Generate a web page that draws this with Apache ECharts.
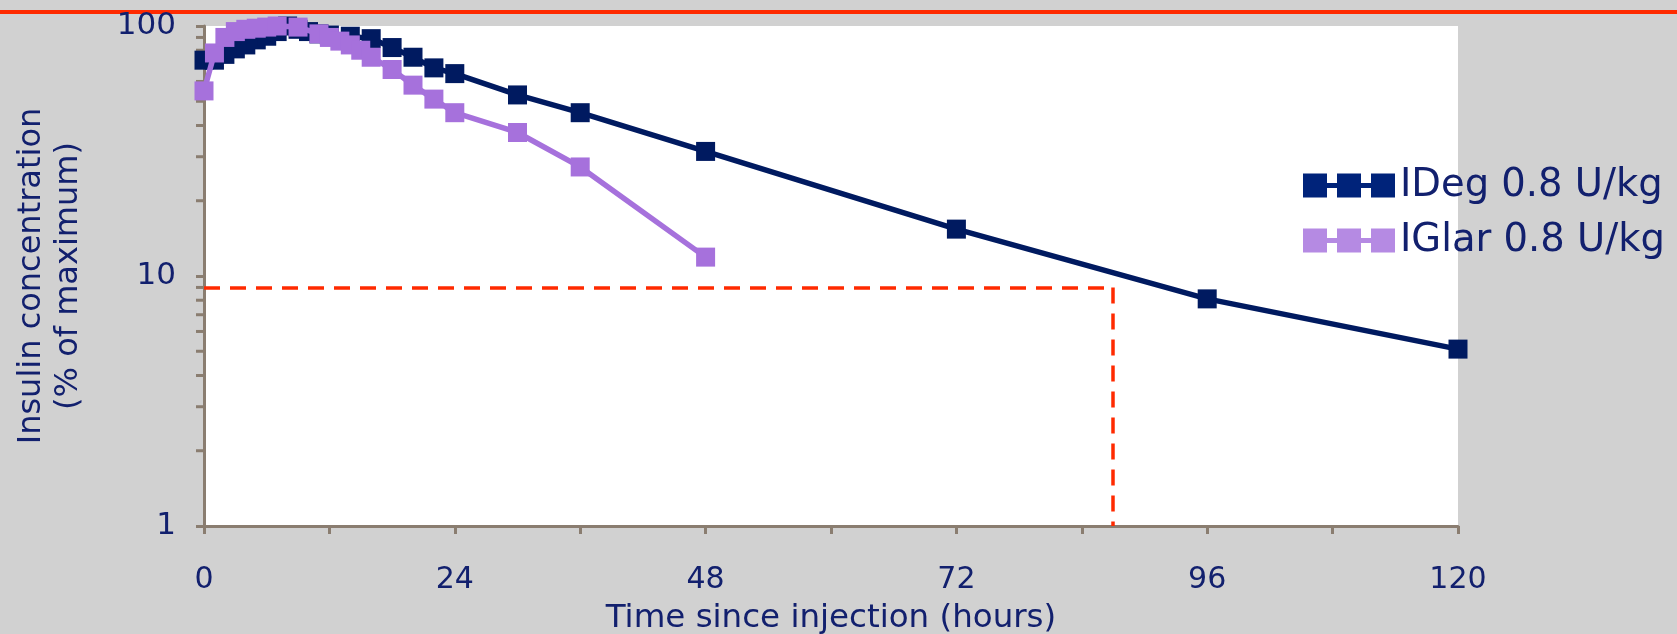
<!DOCTYPE html>
<html>
<head>
<meta charset="utf-8">
<title>Insulin concentration</title>
<script src="https://cdn.jsdelivr.net/npm/echarts@6/dist/echarts.min.js"></script>
<style>
  html, body { margin: 0; padding: 0; background: #d1d1d1; }
  #chart { width: 1677px; height: 634px; }
</style>
</head>
<body>
<div id="chart"></div>
<script>
// values (hours since injection, % of maximum)
const idegHours = [0, 1, 2, 3, 4, 5, 6, 7, 8, 9, 10, 11, 12, 14, 16, 18, 20, 22, 24, 30, 36, 48, 72, 96, 120]
const idegValues = [73, 73, 77, 81, 84, 88, 91, 95, 100, 97, 95, 93, 92, 91, 89, 82, 75, 68, 64.5, 53, 45, 31.5, 15.4, 8.1, 5.1]

const iglarHours = [0, 1, 2, 3, 4, 5, 6, 7, 9, 11, 12, 13, 14, 15, 16, 18, 20, 22, 24, 30, 36, 48]
const iglarValues = [55, 78, 90, 95, 97, 98, 99, 100, 99, 93, 90, 87, 84, 80, 75, 67, 58, 51, 45, 37.5, 27.3, 11.9]

const seriesNames = ['IDeg 0.8 U/kg', 'IGlar 0.8 U/kg']

// y minor ticks of the log axis (2..9 in each decade)
const yMinorTicks = [2, 3, 4, 5, 6, 7, 8, 9, 20, 30, 40, 50, 60, 70, 80, 90]

// red guide: level and time
const guideLevel = 9
const guideHours = 87

const textColor = '#12206e'
const axisColor = '#8a7d70'
const font = 'DejaVu Sans'
const legendIcon = 'path://M0,0H24V9.5H34V0H58V9.5H68V0H92V24H68V14.5H58V24H34V14.5H24V24H0Z'

const chart = echarts.init(document.getElementById('chart'), null, { renderer: 'canvas' })

const toPoints = (hours, values) => hours.map((h, i) => [h, values[i]])

chart.setOption({
  backgroundColor: '#d1d1d1',
  animation: false,
  textStyle: { fontFamily: font },
  graphic: [
    {
      type: 'rect',
      left: 0,
      top: 10,
      shape: { width: 1677, height: 4 },
      style: { fill: '#ff2a00' },
      silent: true,
    },
  ],
  grid: {
    left: 204,
    right: 219,
    top: 26,
    bottom: 108,
    containLabel: false,
    outerBoundsMode: 'none',
    show: true,
    backgroundColor: '#ffffff',
    borderWidth: 0,
  },
  legend: {
    orient: 'vertical',
    left: 1298,
    top: 161,
    itemWidth: 92,
    itemHeight: 24,
    itemGap: 16,
    selectedMode: false,
    textStyle: { color: textColor, fontSize: 38.5, fontFamily: font },
    data: [
      { name: seriesNames[0], icon: legendIcon, itemStyle: { color: '#00237a', borderWidth: 0 } },
      { name: seriesNames[1], icon: legendIcon, itemStyle: { color: '#b58ae3', borderWidth: 0 } },
    ],
  },
  xAxis: {
    type: 'value',
    min: 0,
    max: 120,
    interval: 12,
    name: 'Time since injection (hours)',
    nameLocation: 'middle',
    nameGap: 76,
    nameTextStyle: { color: textColor, fontSize: 32.5, fontFamily: font },
    axisLine: { show: true, lineStyle: { color: axisColor, width: 3 } },
    axisTick: { show: true, length: 8, lineStyle: { color: axisColor, width: 3 } },
    axisLabel: {
      color: textColor,
      fontSize: 30,
      fontFamily: font,
      margin: 39,
      formatter: v => (v % 24 === 0 ? String(v) : ''),
    },
    splitLine: { show: false },
  },
  yAxis: {
    type: 'log',
    logBase: 10,
    min: 1,
    max: 100,
    name: 'Insulin concentration\n(% of maximum)',
    nameLocation: 'middle',
    nameRotate: 90,
    nameGap: 117,
    nameTextStyle: { color: textColor, fontSize: 32, lineHeight: 37, fontFamily: font },
    axisLine: { show: true, lineStyle: { color: axisColor, width: 3 } },
    axisTick: { show: true, length: 8, lineStyle: { color: axisColor, width: 3 } },
    axisLabel: { color: textColor, fontSize: 31, fontFamily: font, margin: 28 },
    splitLine: { show: false },
  },
  series: [
    {
      name: 'yMinorTicks',
      type: 'custom',
      silent: true,
      z: 1,
      data: yMinorTicks.map(v => [0, v]),
      renderItem: (params, api) => {
        const p = api.coord([0, api.value(1)])
        return {
          type: 'line',
          shape: { x1: p[0] - 8, y1: p[1], x2: p[0], y2: p[1] },
          style: { stroke: axisColor, lineWidth: 3 },
        }
      },
    },
    {
      name: seriesNames[0],
      type: 'line',
      data: toPoints(idegHours, idegValues),
      symbol: 'rect',
      symbolSize: 19,
      clip: false,
      z: 3,
      lineStyle: { color: '#001a60', width: 5.5 },
      itemStyle: { color: '#001a60', borderWidth: 0 },
      markLine: {
        silent: true,
        symbol: 'none',
        label: { show: false },
        lineStyle: { color: '#ff2a00', type: [16, 10], width: 3.5 },
        data: [
          [{ coord: [0, guideLevel] }, { coord: [guideHours, guideLevel] }],
          [{ coord: [guideHours, guideLevel] }, { coord: [guideHours, 1] }],
        ],
      },
    },
    {
      name: seriesNames[1],
      type: 'line',
      data: toPoints(iglarHours, iglarValues),
      symbol: 'rect',
      symbolSize: 19,
      clip: false,
      z: 4,
      lineStyle: { color: '#a671dc', width: 5.5 },
      itemStyle: { color: '#a671dc', borderWidth: 0 },
    },
  ],
})
</script>
</body>
</html>
